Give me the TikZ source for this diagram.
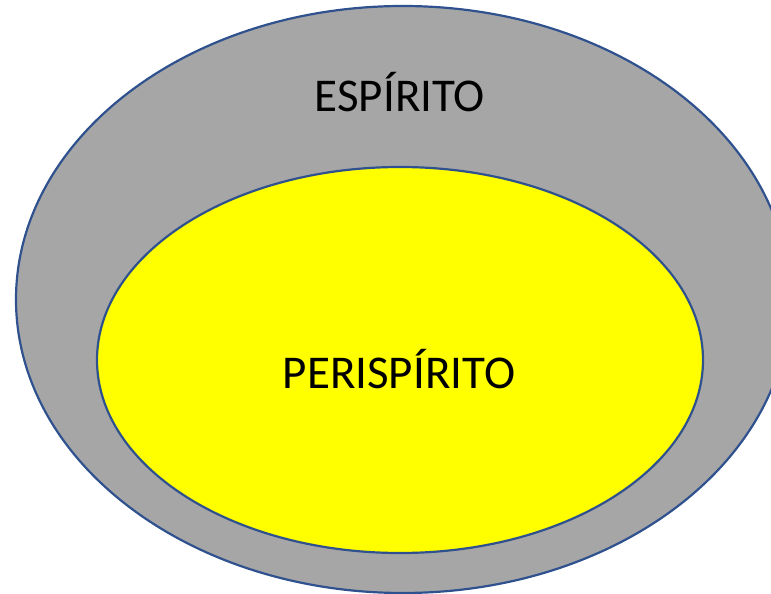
\documentclass[tikz,border=0pt]{standalone}
\usepackage{fontspec}
\setmainfont{Carlito}
\definecolor{outerfill}{HTML}{A6A6A6}
\definecolor{edgeblue}{HTML}{2F528F}
\definecolor{innerfill}{HTML}{FFFF00}
\tikzset{
  blob/.style={draw=edgeblue, line width=2.2pt},
  lbl/.style={font=\fontsize{47}{47}\selectfont, text=black, inner sep=0pt, anchor=base}
}
\begin{document}
\begin{tikzpicture}[x=1pt,y=-1pt]
\useasboundingbox (0,0) rectangle (771,594);
\begin{scope}
\clip (0,0) rectangle (771,594);
\path[blob, fill=outerfill] (403,299.5) ellipse [x radius=387, y radius=293.5];
\path[blob, fill=innerfill] (400,360) ellipse [x radius=303, y radius=193];
\end{scope}
\node[lbl] (esp) at (400,111) {ESPÍRITO};
\node[lbl] (peri) at (399,388) {PERISPÍRITO};
\end{tikzpicture}
\end{document}
